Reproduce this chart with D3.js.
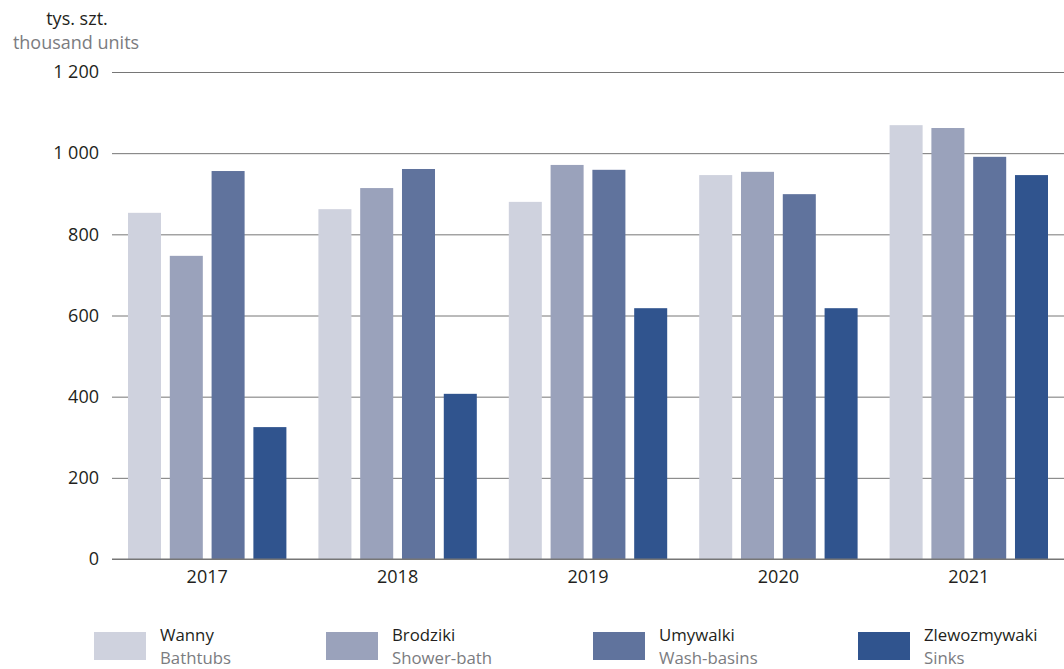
<!DOCTYPE html>
<html>
<head>
<meta charset="utf-8">
<script src="https://cdn.jsdelivr.net/npm/d3@7"></script>
<style>
  html, body { margin: 0; padding: 0; background: #fff; }
  svg { display: block; font-family: "Open Sans", "Noto Sans", sans-serif; }
</style>
</head>
<body>
<div id="chart"></div>
<script>
const years = ["2017", "2018", "2019", "2020", "2021"];
const seriesPl = ["Wanny", "Brodziki", "Umywalki", "Zlewozmywaki"];
const seriesEn = ["Bathtubs", "Shower-bath", "Wash-basins", "Sinks"];
const colors = ["#cfd2de", "#9aa2bb", "#60739d", "#30548e"];
const wanny = [853, 862, 880, 946, 1069];
const brodziki = [747, 914, 971, 954, 1062];
const umywalki = [956, 961, 959, 899, 991];
const zlewozmywaki = [325, 407, 618, 618, 946];
const yTicks = [0, 200, 400, 600, 800, 1000, 1200];

const values = [wanny, brodziki, umywalki, zlewozmywaki];
const rows = years.map((year, i) => ({
  year,
  bars: seriesPl.map((s, j) => ({ key: s, color: colors[j], value: values[j][i] }))
}));

const width = 1064;
const height = 669;
const margin = { top: 72, right: 0, bottom: 110, left: 112 };
const fontSize = 18;
const legendFont = 16.8;

const svg = d3.select("#chart").append("svg")
  .attr("width", width).attr("height", height)
  .attr("viewBox", `0 0 ${width} ${height}`);

const x0 = d3.scaleBand().domain(years).range([margin.left, width - margin.right]);
const x1 = d3.scaleBand().domain(seriesPl).range([16, x0.bandwidth() - 16]).paddingInner(0.21);
const y = d3.scaleLinear().domain([0, 1200]).range([height - margin.bottom, margin.top]);

// gridlines + y labels
const yAxis = d3.axisLeft(y).tickValues(yTicks)
  .tickSize(-(width - margin.left - margin.right))
  .tickPadding(13)
  .tickFormat((v) => d3.format(",")(v).replace(/,/g, " "));

svg.append("g")
  .attr("transform", `translate(${margin.left},0)`)
  .call(yAxis)
  .call((g) => g.select(".domain").remove())
  .call((g) => g.selectAll("line").attr("stroke", "#767676").attr("stroke-width", 1))
  .call((g) => g.selectAll("text").attr("fill", "#231f20").attr("font-size", fontSize)
    .attr("font-family", "'Open Sans', sans-serif"));

// bars
svg.append("g").selectAll("g")
  .data(rows)
  .join("g")
  .attr("transform", (d) => `translate(${x0(d.year)},0)`)
  .selectAll("rect")
  .data((d) => d.bars)
  .join("rect")
  .attr("x", (d) => x1(d.key))
  .attr("width", x1.bandwidth())
  .attr("y", (d) => y(d.value))
  .attr("height", (d) => y(0) - y(d.value))
  .attr("fill", (d) => d.color);

// baseline on top of bars
svg.append("line")
  .attr("x1", margin.left).attr("x2", width - margin.right)
  .attr("y1", y(0)).attr("y2", y(0))
  .attr("stroke", "#767676").attr("stroke-width", 1.2);

// x labels
const xAxis = d3.axisBottom(x0).tickSize(0).tickPadding(11);
svg.append("g")
  .attr("transform", `translate(0,${y(0)})`)
  .call(xAxis)
  .call((g) => g.select(".domain").remove())
  .call((g) => g.selectAll("text").attr("fill", "#231f20").attr("font-size", fontSize)
    .attr("font-family", "'Open Sans', sans-serif"));

// unit label
svg.append("text")
  .attr("x", 77).attr("y", 25)
  .attr("text-anchor", "middle")
  .attr("font-size", fontSize).attr("fill", "#231f20")
  .text("tys. szt.");
svg.append("text")
  .attr("x", 76).attr("y", 49)
  .attr("text-anchor", "middle")
  .attr("font-size", fontSize).attr("fill", "#7b7c7f")
  .text("thousand units");

// legend
const legendX = [94, 326, 593, 858];
const legend = svg.append("g").selectAll("g")
  .data(seriesPl)
  .join("g")
  .attr("transform", (d, i) => `translate(${legendX[i]},632)`);

legend.append("rect")
  .attr("width", 52).attr("height", 28)
  .attr("fill", (d, i) => colors[i]);
legend.append("text")
  .attr("x", 66).attr("y", 9)
  .attr("font-size", legendFont).attr("fill", "#231f20")
  .text((d) => d);
legend.append("text")
  .attr("x", 66).attr("y", 32)
  .attr("font-size", legendFont).attr("fill", "#7b7c7f")
  .text((d, i) => seriesEn[i]);
</script>
</body>
</html>
